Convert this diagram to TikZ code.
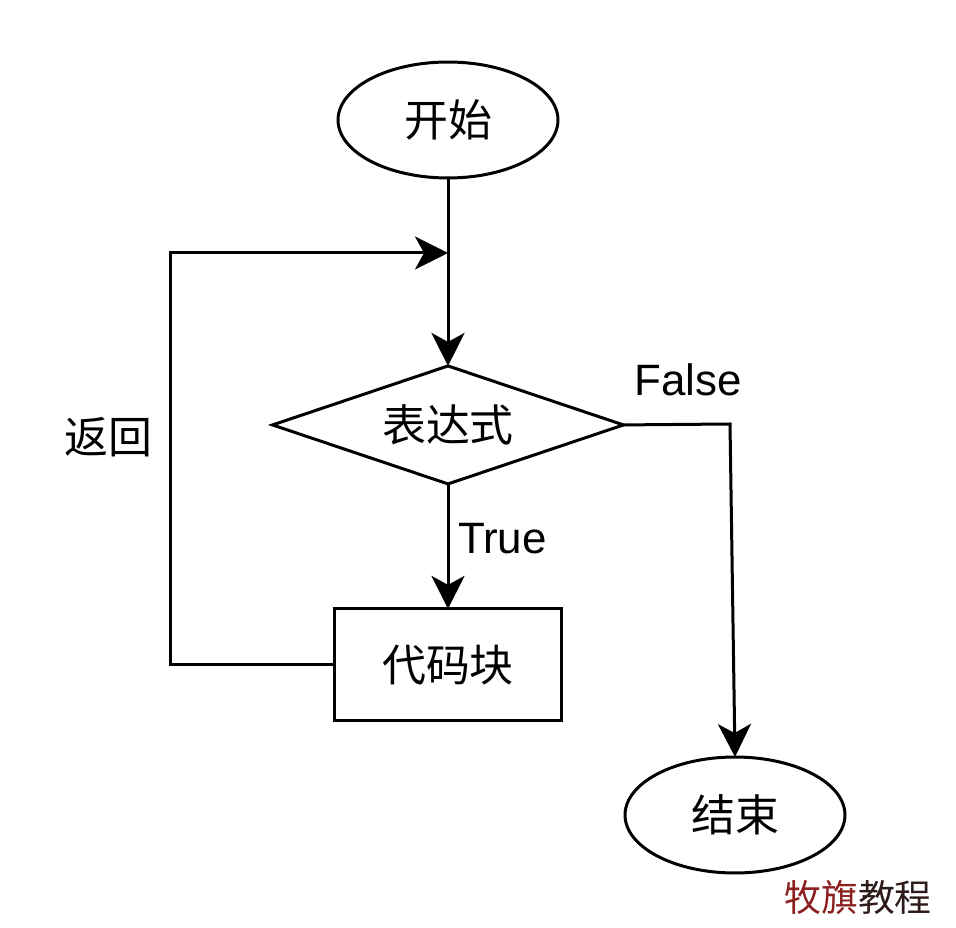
\documentclass[tikz,border=0pt]{standalone}
\usepackage{fontspec}
\setmainfont{Liberation Sans}
\newfontfamily\cjk{Noto Sans CJK SC}
\usepackage{tikz}
\usetikzlibrary{positioning,arrows.meta,shapes.geometric}
\usepackage{xcolor}
\definecolor{markred}{HTML}{8B1E1E}
\definecolor{markdark}{HTML}{2E1A1A}

\begin{document}
\begin{tikzpicture}[
    x=0.02cm, y=-0.02cm,
    every node/.style={font=\fontsize{25}{30}\selectfont, inner sep=0pt, outer sep=0pt},
    box/.style={draw, line width=0.06cm},
    terminal/.style={box, ellipse, minimum width=4.4cm, minimum height=2.32cm},
    decision/.style={box, diamond, aspect=3, minimum width=7.02cm, minimum height=2.36cm},
    process/.style={box, rectangle, minimum width=4.54cm, minimum height=2.24cm},
    arr/.style={line width=0.06cm, -{Stealth[length=0.66cm, width=0.66cm, inset=0.18cm]}},
  ]
    \useasboundingbox (0,0) rectangle (956,928);

    \node[terminal] (start) at (448,120) {\cjk 开始};
    \node[decision, below=3.76cm of start] (cond) {\cjk 表达式};
    \node[process, below=2.5cm of cond] (block) {\cjk 代码块};
    \node[terminal] (end) at (735,815) {\cjk 结束};

    \coordinate (join) at (448,253);
    \coordinate (fcorner) at (730,424);

    \draw[arr] (start) -- (cond);
    \draw[arr] (cond) -- node[pos=0.44, right=0.2cm] (truelbl) {True} (block);
    \draw[arr] (block.west) -- ++(-164,0) |- (join);
    \draw[arr] (cond.east) -- (fcorner) -- (end.north);

    \node (falselbl) at (688,380) {False};
    \node (backlbl) at (108,437) {\cjk 返回};

    % watermark
    \node[font=\fontsize{21}{25}\selectfont] (mark) at (858,897)
      {\cjk\textcolor{markred}{牧旗}\textcolor{markdark}{教程}};
  \end{tikzpicture}
\end{document}
